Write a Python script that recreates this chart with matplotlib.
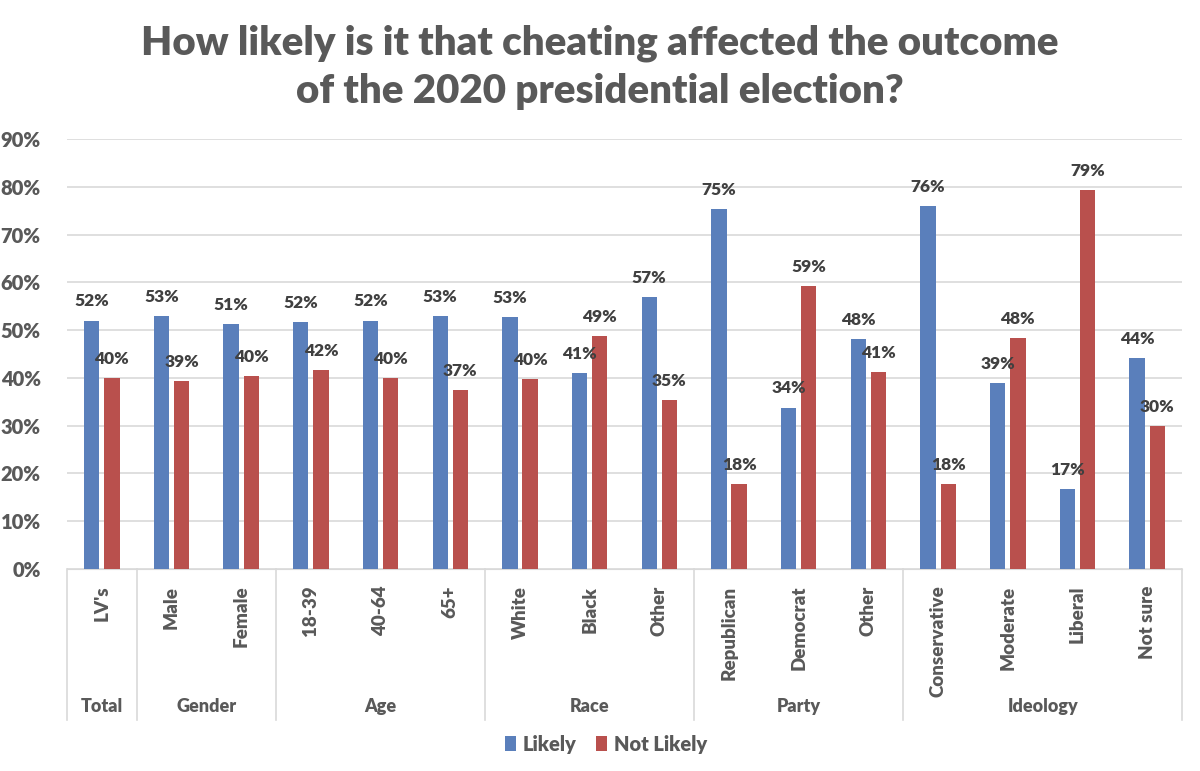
import matplotlib
matplotlib.use('Agg')
import matplotlib.pyplot as plt
import numpy as np

categories = ["LV's", "Male", "Female", "18-39", "40-64", "65+", "White", "Black", "Other",
              "Republican", "Democrat", "Other", "Conservative", "Moderate", "Liberal", "Not sure"]
groups = ["Total", "Gender", "Age", "Race", "Party", "Ideology"]
group_sizes = [1, 2, 3, 3, 3, 4]
likely = [52.0, 53.0, 51.2, 51.6, 52.0, 53.0, 52.7, 41.1, 57.0, 75.3, 33.8, 48.2, 75.9, 39.0, 16.8, 44.2]
not_likely = [40.0, 39.4, 40.3, 41.6, 40.0, 37.4, 39.7, 48.8, 35.3, 17.8, 59.2, 41.3, 17.8, 48.3, 79.3, 29.9]

blue = '#5A7FBB'
red = '#B9504D'
grey = '#595959'
plt.rcParams['font.family'] = ['Lato', 'DejaVu Sans']

fig = plt.figure(figsize=(12, 7.71), dpi=100)
ax = fig.add_axes([67 / 1200, 1 - 569 / 771, (1182 - 67) / 1200, 430 / 771])

x = np.arange(len(categories))
w = 0.22
ax.bar(x - 0.145, likely, w, color=blue, label='Likely', zorder=3)
ax.bar(x + 0.145, not_likely, w, color=red, label='Not Likely', zorder=3)

for i in range(len(categories)):
    ax.annotate(f"{likely[i]:.0f}%", (x[i] - 0.145, likely[i]), xytext=(0, 8), textcoords='offset points',
                ha='center', va='bottom', fontsize=12.5, fontweight='heavy', color='#404040', zorder=4)
    ax.annotate(f"{not_likely[i]:.0f}%", (x[i] + 0.145, not_likely[i]), xytext=(0, 8), textcoords='offset points',
                ha='center', va='bottom', fontsize=12.5, fontweight='heavy', color='#404040', zorder=4)

ax.set_xlim(-0.5, len(categories) - 0.5)
ax.set_ylim(0, 90)
ax.set_yticks(np.arange(0, 91, 10))
ax.set_yticklabels([f"{v}%" for v in range(0, 91, 10)], fontsize=14.5, fontweight='heavy', color=grey)
ax.yaxis.grid(True, color='#D9D9D9', linewidth=1.2, zorder=0)
ax.tick_params(axis='y', length=0, pad=19)
ax.set_xticks(x)
ax.set_xticklabels(categories, rotation=90, fontsize=13.5, fontweight='heavy', color=grey, va='top', ha='center')
ax.tick_params(axis='x', length=0, pad=12)
for s in ['top', 'right', 'left']:
    ax.spines[s].set_visible(False)
ax.spines['bottom'].set_color('#D9D9D9')

# group separators and group names
tr = ax.get_xaxis_transform()
bounds = np.concatenate([[0], np.cumsum(group_sizes)]) - 0.5
for b in bounds:
    ax.plot([b, b], [0, -0.35], transform=tr, color='#D9D9D9', linewidth=1.2, clip_on=False)
for g, a, b in zip(groups, bounds[:-1], bounds[1:]):
    ax.text((a + b) / 2, -0.319, g, transform=tr, ha='center', va='center',
            fontsize=13, fontweight='heavy', color=grey)

fig.text(0.5, 1 - 67 / 771, "How likely is it that cheating affected the outcome\nof the 2020 presidential election?",
         ha='center', va='center', fontsize=29, fontweight='heavy', color=grey, linespacing=1.38)

fig.legend(loc='center', bbox_to_anchor=(0.505, 1 - 744 / 771), ncol=2, frameon=False,
           handlelength=0.55, handleheight=0.7, handletextpad=0.3, columnspacing=1.0,
           prop={'size': 14.5, 'weight': 'heavy'}, labelcolor=grey)

fig.savefig('out.png', dpi=100)
